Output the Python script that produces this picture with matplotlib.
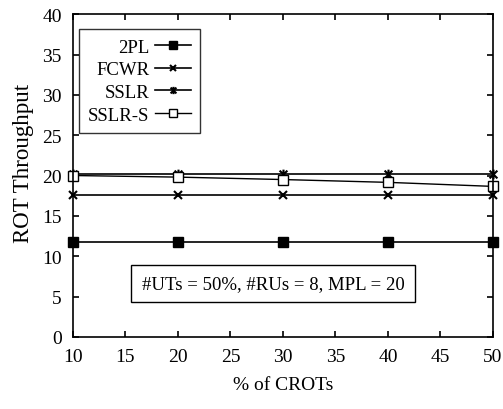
import numpy as np
import matplotlib.pyplot as plt
from matplotlib.path import Path

plt.rcParams['font.family'] = ['Liberation Serif', 'DejaVu Serif']
plt.rcParams['mathtext.fontset'] = 'stix'

crots = [10, 20, 30, 40, 50]
tpl = [11.75, 11.75, 11.75, 11.75, 11.75]
fcwr = [17.6, 17.6, 17.6, 17.6, 17.6]
sslr = [20.2, 20.2, 20.2, 20.2, 20.2]
sslr_s = [20.0, 19.8, 19.5, 19.15, 18.65]

# gnuplot style asterisk: x with a vertical bar
star = Path([(-1, -1), (1, 1), (-1, 1), (1, -1), (0, -1.25), (0, 1.25)],
            [Path.MOVETO, Path.LINETO, Path.MOVETO, Path.LINETO, Path.MOVETO, Path.LINETO])

fig = plt.figure(figsize=(5.03, 4.10), dpi=100)
ax = fig.add_axes([0.145, 0.176, 0.835, 0.787])

ax.plot(crots, tpl, c='black', lw=1.2, marker='s', ms=7, label='2PL', clip_on=False)
ax.plot(crots, fcwr, c='black', lw=1.2, marker='x', ms=6, mew=1.5, label='FCWR', clip_on=False)
ax.plot(crots, sslr, c='black', lw=1.2, marker=star, ms=7, mew=1.5, label='SSLR', clip_on=False)
ax.plot(crots, sslr_s, c='black', lw=1.0, marker='s', ms=7, mfc='white', mew=1.0,
        label='SSLR-S', clip_on=False)

ax.set_xlim(10, 50)
ax.set_ylim(0, 40)
ax.set_xticks(np.arange(10, 51, 5))
ax.set_yticks(np.arange(0, 41, 5))
ax.tick_params(direction='in', top=True, right=True, length=4, width=1.2,
               labelsize=14, pad=8)
for s in ax.spines.values():
    s.set_linewidth(1.2)

ax.set_xlabel('% of CROTs', fontsize=14, labelpad=8)
ax.set_ylabel('ROT Throughput', fontsize=16.5)
ax.yaxis.set_label_coords(-0.093, 0.54)

leg = ax.legend(loc='upper left', bbox_to_anchor=(0.014, 0.954), markerfirst=False,
                fontsize=13.5, frameon=True, fancybox=False, edgecolor='black',
                handlelength=1.9, handletextpad=0.3, labelspacing=0.3,
                borderpad=0.5, borderaxespad=0, markerscale=0.75)
leg.get_frame().set_linewidth(1.0)

ax.text(29.05, 6.6, '#UTs = 50%, #RUs = 8, MPL = 20', ha='center', va='center', fontsize=13.5,
        bbox=dict(boxstyle='square,pad=0.55', fc='white', ec='black', lw=1.0))

plt.savefig('out.png', dpi=100)
